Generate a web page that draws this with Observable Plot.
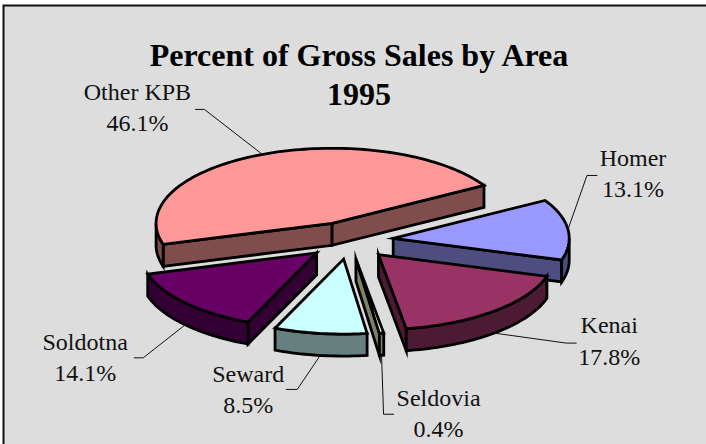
<!DOCTYPE html>
<html><head><meta charset="utf-8">
<script src="https://cdn.jsdelivr.net/npm/d3@7"></script>
<script src="https://cdn.jsdelivr.net/npm/@observablehq/plot@0.6"></script>
<style>html,body{margin:0;padding:0;background:#fff;overflow:hidden}svg{display:block}</style>
</head><body><div id="chart"></div>
<script>
const areas = ["Other KPB","Homer","Kenai","Seldovia","Seward","Soldotna"];
const shares = [46.1,13.1,17.8,0.4,8.5,14.1];
const topColors = ["#FF9999","#9999FF","#993366","#FFFFCC","#CCFFFF","#660066"];
const wallColors = ["#804D4D","#4D4D80","#4D1A33","#808066","#668080","#330033"];
const drawOrder = [0,1,2,5,4,3];
const titleLines = ["Percent of Gross Sales by Area","1995"];

// 3-D pie layout (unit radius = 1 in the plane)
const startDeg = 196.3, explode = 0.25, rx = 176, ry = 75, depthPx = 22;
const cx = 349, cy = 240, W = 706, H = 444;
const depth = depthPx / ry;
// leader: offset from rim to elbow, then stub length, in px
const elbowPx = [[-58,-45],[19,-54],[72,10],[2,59],[-23,34],[-42,33]];
const stubPx = [-9,10,10,10,-11,-9];
const labelGapPx = [[-67,-4],[46,-4],[43,-4],[55,-3],[-49,-2],[-58,-2]];

let a0 = startDeg;
const slices = shares.map((v,i)=>{
  const a1 = a0 - v*3.6; const s = {i,a0,a1,mid:(a0+a1)/2}; a0 = a1;
  const m = s.mid*Math.PI/180;
  s.ox = explode*Math.cos(m); s.oy = explode*Math.sin(m);
  return s;
});
const rad = d=>d*Math.PI/180;
const pt = (s,deg,drop=0)=>({x:s.ox+Math.cos(rad(deg)),y:s.oy+Math.sin(rad(deg))-drop});
const apex = (s,drop=0)=>({x:s.ox,y:s.oy-drop});
function arc(s,d0,d1,drop){const n=Math.max(2,Math.ceil(Math.abs(d1-d0)/1.5));return d3.range(n+1).map(k=>pt(s,d0+(d1-d0)*k/n,drop));}
const face = (pts,fill)=>Plot.line(pts,{x:"x",y:"y",curve:"linear-closed",fill,stroke:"#000",strokeWidth:2.8,strokeLinejoin:"miter",strokeMiterlimit:10});

const marks=[Plot.frame({fill:"#DDDDDD",stroke:"#111",strokeWidth:2})];
for(const i of drawOrder){
  const s=slices[i];
  // radial walls that face the viewer
  for(const [deg,vis] of [[s.a0,Math.cos(rad(s.a0))<0],[s.a1,Math.cos(rad(s.a1))>0]]){
    if(vis) marks.push(face([apex(s),pt(s,deg),pt(s,deg,depth),apex(s,depth)],wallColors[i]));
  }
  // outer wall: the part of the rim below the horizontal
  const lo=Math.max(s.a1,-180), hi=Math.min(s.a0,0);
  const ranges=[];
  if(hi>lo) ranges.push([hi,lo]);
  if(s.a0>180){ranges.push([s.a0,Math.max(180,s.a1)]);}
  for(const [p,q] of ranges){
    marks.push(face([...arc(s,p,q,0),...arc(s,q,p,depth)],wallColors[i]));
  }
  marks.push(face([apex(s),...arc(s,s.a0,s.a1,0)],topColors[i]));
}
// leaders and labels
const labels=[];
slices.forEach((s,i)=>{
  const drop=Math.sin(rad(s.mid))<0?depth:0;
  const p=pt(s,s.mid,drop);
  const e={x:p.x+elbowPx[i][0]/rx,y:p.y-elbowPx[i][1]/ry};
  const t={x:e.x+stubPx[i]/rx,y:e.y};
  marks.push(Plot.line([p,e,t],{x:"x",y:"y",stroke:"#111",strokeWidth:1}));
  labels.push({x:e.x+labelGapPx[i][0]/rx,y:e.y-labelGapPx[i][1]/ry,text:`${areas[i]}\n${shares[i].toFixed(1)}%`});
});
marks.push(Plot.text(labels,{x:"x",y:"y",text:"text",fontSize:24,lineHeight:1.3,textAnchor:"middle",lineAnchor:"middle",fill:"#111",fontFamily:"Liberation Serif"}));
marks.push(Plot.text([titleLines[0]],{frameAnchor:"top",dy:50,dx:1,text:d=>d,fontSize:32,fontWeight:"bold",fill:"#000",fontFamily:"Liberation Serif",lineAnchor:"middle"}));
marks.push(Plot.text([titleLines[1]],{frameAnchor:"top",dy:89,dx:1,text:d=>d,fontSize:32,fontWeight:"bold",fill:"#000",fontFamily:"Liberation Serif",lineAnchor:"middle"}));

const chart=Plot.plot({
  width:W,height:H,
  marginLeft:3,marginTop:5,marginRight:-6,marginBottom:-6,
  style:{background:"#fff",overflow:"hidden"},
  x:{domain:[-cx/rx,(W-cx)/rx],range:[0,W],axis:null},
  y:{domain:[cy/ry,(cy-H)/ry],range:[0,H],axis:null},
  marks
});
document.getElementById("chart").append(chart);
</script></body></html>
